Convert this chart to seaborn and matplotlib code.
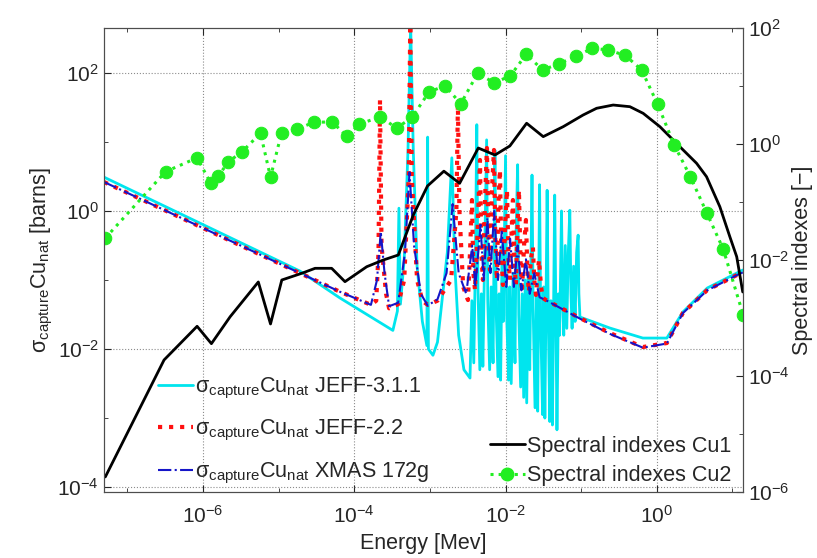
import numpy as np
import pandas as pd
import matplotlib
matplotlib.use("Agg")
import matplotlib.pyplot as plt
import seaborn as sns
from matplotlib.lines import Line2D
from matplotlib.ticker import FixedLocator, NullFormatter, LogFormatterSciNotation

# Spectral indexes (right axis), energy in MeV
cu2_energy = [5.1e-8, 3.19e-7, 8.34e-7, 1.26e-6, 1.58e-6, 2.17e-6, 3.28e-6, 5.75e-6, 7.80e-6,
              1.09e-5, 1.73e-5, 2.93e-5, 5.12e-5, 7.94e-5, 1.16e-4, 2.22e-4, 3.63e-4, 5.85e-4,
              9.62e-4, 1.57e-3, 2.56e-3, 4.28e-3, 7.03e-3, 1.15e-2, 1.88e-2, 3.09e-2, 5.12e-2,
              8.47e-2, 0.141, 0.228, 0.385, 0.630, 1.03, 1.69, 2.78, 4.59, 7.55, 13.9]
cu2_index = [2.39e-2, 0.333, 0.578, 0.213, 0.277, 0.495, 0.736, 1.53, 0.268,
             1.55, 1.79, 2.38, 2.39, 1.37, 2.19, 2.96, 1.87, 2.92,
             7.73, 10.2, 4.95, 16.6, 11.4, 14.8, 35.3, 18.9, 24.2,
             32.5, 44.7, 41.8, 33.6, 18.9, 4.80, 0.98, 0.273, 6.46e-2, 1.55e-2, 1.13e-3]

cu1_energy = [5.1e-8, 3.05e-7, 8.34e-7, 1.29e-6, 2.28e-6, 5.38e-6, 7.80e-6, 1.10e-5, 2.02e-5,
              3.03e-5, 5.02e-5, 7.53e-5, 1.46e-4, 2.42e-4, 3.82e-4, 6.03e-4, 9.29e-4, 1.53e-3,
              2.47e-3, 4.36e-3, 7.24e-3, 1.14e-2, 1.90e-2, 3.15e-2, 5.79e-2, 0.106, 0.160,
              0.265, 0.441, 0.661, 1.10, 2.02, 3.36, 4.55, 6.82, 9.25, 11.4, 13.7]
cu1_index = [1.82e-6, 1.89e-4, 7.19e-4, 3.61e-4, 1.05e-3, 4.18e-3, 7.89e-4, 4.52e-3, 5.90e-3,
             7.19e-3, 7.19e-3, 4.23e-3, 7.66e-3, 1.0e-2, 1.22e-2, 5.97e-2, 0.189, 0.340,
             0.210, 0.853, 0.646, 0.925, 2.28, 1.34, 1.99, 3.16, 4.13,
             4.70, 4.40, 3.38, 1.99, 0.898, 0.465, 0.273, 8.30e-2, 2.52e-2, 1.14e-2, 2.81e-3]

# Capture cross sections (left axis), read as log10(E/MeV) and log10(sigma/barn)
jeff311_log_e = [-7.31, -4.72, -4.19, -3.49, -3.43, -3.41, -3.39, -3.34, -3.29, -3.255, -3.22,
                 -3.17, -3.10, -3.04, -3.03, -3.02, -2.96, -2.90, -2.84, -2.77, -2.71, -2.67,
                 -2.62, -2.55, -2.47, -2.445, -2.42, -2.40, -2.38, -2.365, -2.34, -2.32, -2.30,
                 -2.28, -2.25, -2.235, -2.21, -2.19, -2.165, -2.14, -2.125, -2.10, -2.085,
                 -2.065, -2.045, -2.03, -2.00, -1.985, -1.96, -1.945, -1.925, -1.90, -1.875,
                 -1.86, -1.84, -1.825, -1.80, -1.78, -1.76, -1.74, -1.72, -1.70, -1.68, -1.65,
                 -1.635, -1.61, -1.59, -1.575, -1.55, -1.535, -1.51, -1.495, -1.48, -1.45,
                 -1.435, -1.415, -1.40, -1.38, -1.35, -1.335, -1.32, -1.30, -1.285, -1.26,
                 -1.245, -1.23, -1.21, -1.19, -1.17, -1.15, -1.135, -1.12, -1.10, -1.08, -1.06,
                 -1.04, -1.03, -1.016, -0.62, -0.184, 0.133, 0.345, 0.668, 1.059, 1.138]
jeff311_log_xs = [0.49, -0.87, -1.26, -1.73, -1.45, 0.04, -1.35, -0.70, 0.88, 2.7, 0.88,
                  -0.80, -1.60, -1.95, 1.07, -2.0, -2.09, -1.90, -1.30, -0.60, 0.77, -0.80,
                  -1.80, -2.30, -2.42, -1.3, -2.2, -0.8, 1.25, -1.1, -2.3, -1.2, -2.25,
                  -0.9, 1.03, -1.3, -2.30, -1.1, -2.2, 0.88, -1.4, -2.40, -1.2,
                  -2.45, -0.5, -1.6, 0.80, -1.5, -2.45, -1.1, -2.50, -0.9, -2.2,
                  -0.3, 0.67, -1.5, -2.55, -1.2, -2.70, -1.0, -2.78, -0.9, -2.3, 0.52,
                  -1.4, -2.85, -1.2, -2.90, 0.38, -1.6, -2.95, -1.1, -3.0, 0.30,
                  -1.5, -3.05, -1.3, -3.10, 0.23, -1.4, -3.17, -1.2, -1.8, 0.0,
                  -1.3, -1.8, -0.5, -1.7, -0.6, 0.01, -1.2, -1.7, -0.8, -1.6, -0.6,
                  -0.35, -1.2, -1.536, -1.696, -1.841, -1.841, -1.464, -1.116, -0.899, -0.855]

jeff22_log_e = [-7.31, -4.72, -4.19, -3.78, -3.71, -3.68, -3.66, -3.64, -3.58, -3.54, -3.42,
                -3.34, -3.28, -3.26, -3.24, -3.17, -3.10, -3.03, -2.90, -2.72, -2.65, -2.63,
                -2.61, -2.56, -2.497, -2.47, -2.444, -2.425, -2.404, -2.37, -2.338, -2.32,
                -2.299, -2.27, -2.246, -2.225, -2.206, -2.18, -2.153, -2.135, -2.114, -2.095,
                -2.074, -2.055, -2.034, -2.005, -1.981, -1.96, -1.942, -1.92, -1.902, -1.88,
                -1.863, -1.84, -1.823, -1.80, -1.783, -1.755, -1.730, -1.71, -1.691, -1.665,
                -1.638, -1.62, -1.598, -1.575, -1.558, -1.53, -1.506, -1.466, -1.016, -0.62,
                -0.184, 0.133, 0.345, 0.668, 1.059, 1.138]
jeff22_log_xs = [0.42, -0.90, -1.17, -1.36, -1.30, -0.60, 1.61, -0.50, -1.20, -1.41, -1.35,
                 -1.00, 0.5, 2.7, 0.5, -1.00, -1.30, -1.36, -1.30, -1.00, 0.0, 1.54,
                 0.0, -1.10, -1.29, -0.6, 0.159, -0.9, -1.145, -0.3, 0.739, -0.6,
                 -1.0, 0.2, 0.913, -0.5, -0.855, 0.3, 0.884, -0.4, -1.0, 0.1,
                 0.594, -0.6, -1.072, -0.2, 0.304, -0.7, -1.0, -0.3, 0.159, -0.8,
                 -1.072, -0.2, 0.304, -0.8, -1.174, -0.5, -0.130, -0.9, -1.174, -0.7,
                 -0.522, -1.0, -1.217, -0.9, -0.710, -1.1, -1.261, -1.29, -1.551, -1.768,
                 -1.971, -1.913, -1.478, -1.145, -0.928, -0.884]

xmas_log_e = [-7.31, -4.72, -4.19, -3.78, -3.70, -3.65, -3.60, -3.54, -3.42, -3.33, -3.27,
              -3.21, -3.12, -3.03, -2.90, -2.78, -2.70, -2.62, -2.52, -2.44, -2.40, -2.33,
              -2.29, -2.24, -2.20, -2.15, -2.10, -2.05, -1.99, -1.94, -1.89, -1.84, -1.79,
              -1.73, -1.68, -1.62, -1.55, -1.47, -1.016, -0.62, -0.184, 0.133, 0.345, 0.668,
              1.059, 1.138]
xmas_log_xs = [0.42, -0.90, -1.17, -1.36, -1.00, -0.30, -0.90, -1.38, -1.33, -0.60, 0.56,
               -0.50, -1.20, -1.37, -1.28, -0.90, 0.10, -0.90, -1.20, -0.50, -1.10, -0.20,
               -1.00, -0.10, -0.90, 0.0, -1.00, -0.30, -1.10, -0.40, -1.10, -0.50, -1.15,
               -0.70, -1.20, -0.90, -1.25, -1.29, -1.56, -1.78, -1.98, -1.92, -1.48, -1.15,
               -0.93, -0.89]

xs_labels = [
    "σ$_{capture}$Cu$_{nat}$ JEFF-3.1.1",
    "σ$_{capture}$Cu$_{nat}$ JEFF-2.2",
    "σ$_{capture}$Cu$_{nat}$ XMAS 172g",
]
si_labels = ["Spectral indexes Cu1", "Spectral indexes Cu2"]

sns.set_style("ticks")
plt.rcParams["font.family"] = ["Liberation Sans", "DejaVu Sans"]
plt.rcParams["mathtext.default"] = "regular"
text_color = "0.15"

fig = plt.figure(figsize=(8.17, 5.58), dpi=100)
ax = fig.add_axes([0.1273, 0.1183, 0.7821, 0.8315])
ax2 = ax.twinx()

# cross sections
xs_series = [
    (jeff311_log_e, jeff311_log_xs, dict(color="#00E5EE", linestyle="-", linewidth=2.0)),
    (jeff22_log_e, jeff22_log_xs, dict(color="#FF1010", linestyle=":", linewidth=3.0)),
    (xmas_log_e, xmas_log_xs, dict(color="#1515C8", linestyle="-.", linewidth=1.5)),
]
for le, lx, style in xs_series:
    df = pd.DataFrame({"E": 10.0 ** np.array(le), "xs": 10.0 ** np.array(lx)})
    sns.lineplot(data=df, x="E", y="xs", ax=ax, sort=False, estimator=None, legend=False, **style)

# spectral indexes
df1 = pd.DataFrame({"E": cu1_energy, "S": cu1_index})
df2 = pd.DataFrame({"E": cu2_energy, "S": cu2_index})
sns.lineplot(data=df1, x="E", y="S", ax=ax2, sort=False, estimator=None, legend=False,
             color="black", linewidth=2.0)
sns.lineplot(data=df2, x="E", y="S", ax=ax2, sort=False, estimator=None, legend=False,
             color="#22EE22", linestyle=":", linewidth=2.2, marker="o", markersize=9,
             markeredgecolor="#22EE22")

for a in (ax, ax2):
    a.set_xscale("log")
    a.set_yscale("log")
ax.set_xlim(4.9e-8, 13.8)
ax.set_ylim(8.5e-5, 447)
ax2.set_ylim(1e-6, 1e2)

ax.xaxis.set_major_locator(FixedLocator([1e-6, 1e-4, 1e-2, 1]))
ax.xaxis.set_minor_locator(FixedLocator([1e-7, 1e-5, 1e-3, 1e-1, 1e1]))
ax.yaxis.set_major_locator(FixedLocator([1e-4, 1e-2, 1, 1e2]))
ax.yaxis.set_minor_locator(FixedLocator([1e-3, 1e-1, 1e1]))
ax2.yaxis.set_major_locator(FixedLocator([1e-6, 1e-4, 1e-2, 1, 1e2]))
ax2.yaxis.set_minor_locator(FixedLocator([1e-5, 1e-3, 1e-1, 1e1]))
for axis in (ax.xaxis, ax.yaxis, ax2.yaxis):
    axis.set_major_formatter(LogFormatterSciNotation())
    axis.set_minor_formatter(NullFormatter())

ax.grid(True, which="major", linestyle=":", color="0.55", linewidth=0.8)
ax.tick_params(which="both", direction="in", top=True, labelsize=15, colors=text_color,
               length=5)
ax.tick_params(axis="x", pad=9)
ax.tick_params(which="minor", length=3)
ax2.tick_params(which="both", direction="in", labelsize=15, colors=text_color, length=5)
ax2.tick_params(which="minor", length=3)
for a in (ax, ax2):
    for sp in a.spines.values():
        sp.set_color("0.3")
        sp.set_linewidth(0.8)

ax.set_xlabel("Energy [Mev]", fontsize=15.5, color=text_color, labelpad=5)
ax.set_ylabel("σ$_{capture}$Cu$_{nat}$ [barns]", fontsize=15.5, color=text_color, labelpad=2)
ax2.set_ylabel("Spectral indexes [−]", fontsize=15.5, color=text_color, labelpad=2)

# legends
xs_handles = [Line2D([], [], **style) for _, _, style in xs_series]
leg1 = ax2.legend(xs_handles, xs_labels, loc="upper left", bbox_to_anchor=(0.085, 0.25),
                  frameon=False, fontsize=15.5, handlelength=1.6, handletextpad=0.1,
                  labelspacing=0.8, borderpad=0.0, borderaxespad=0.0, labelcolor=text_color)
ax2.add_artist(leg1)
si_handles = [Line2D([], [], color="black", linewidth=2.0),
              Line2D([], [], color="#22EE22", linestyle=":", linewidth=2.2, marker="o",
                     markersize=9)]
ax2.legend(si_handles, si_labels, loc="lower right", bbox_to_anchor=(0.985, 0.008),
           frameon=False, fontsize=15.5, handlelength=1.6, handletextpad=0.1,
           labelspacing=0.4, borderpad=0.1, borderaxespad=0.0, labelcolor=text_color)

fig.savefig("out.png", dpi=100)
plt.close(fig)
